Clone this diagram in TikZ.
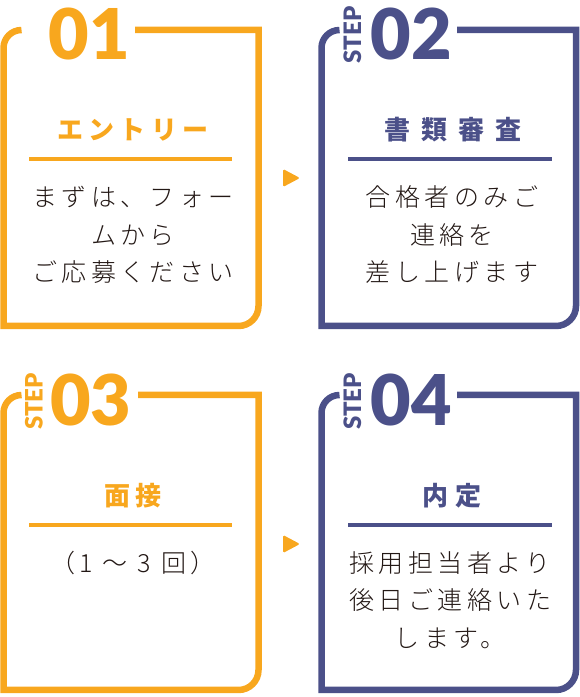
\documentclass[tikz,border=0pt]{standalone}
\usepackage{fontspec}
\newfontfamily\jpfont{Noto Sans CJK JP}
\newfontfamily\jplight{Noto Sans CJK JP Light}
\newfontfamily\numfont{Lato Black}
\definecolor{sorange}{HTML}{F8A71E}
\definecolor{snavy}{HTML}{4B5089}
\definecolor{stext}{HTML}{231815}
\begin{document}
\begin{tikzpicture}[x=1pt,y=1pt,
  frame/.style={line width=6.5pt},
  divider/.style={line width=4pt},
  numlabel/.style={inner sep=0pt,font=\numfont\fontsize{70}{70}\selectfont},
  steplabel/.style={inner sep=0pt,rotate=90,font=\numfont\fontsize{24}{24}\selectfont},
  titlelabel/.style={inner sep=0pt,font=\jpfont\bfseries\fontsize{26}{26}\selectfont},
  bodytext/.style={inner sep=0pt,align=center,text=stext,font=\jplight\fontsize{25}{37.5}\selectfont\addfontfeature{LetterSpace=18}},
  tri/.style={fill=sorange,rounded corners=1.5pt}]
\useasboundingbox (0,0) rectangle (580,697);
% frames
\draw[frame,sorange] (135,667) -- (258.5,667) -- (258.5,391) arc[start angle=0,end angle=-90,radius=20] -- (3.5,371) -- (3.5,649) arc[start angle=180,end angle=90,radius=18] -- (21.5,667);
\draw[frame,snavy] (457,667) -- (576,667) -- (576,391) arc[start angle=0,end angle=-90,radius=20] -- (321.5,371) -- (321.5,649) arc[start angle=180,end angle=90,radius=18] -- (339.5,667);
\draw[frame,sorange] (138,302) -- (258.5,302) -- (258.5,27) arc[start angle=0,end angle=-90,radius=20] -- (3.5,7) -- (3.5,284) arc[start angle=180,end angle=90,radius=18] -- (21.5,302);
\draw[frame,snavy] (457,302) -- (576,302) -- (576,27) arc[start angle=0,end angle=-90,radius=20] -- (321.5,7) -- (321.5,284) arc[start angle=180,end angle=90,radius=18] -- (339.5,302);
% numbers
\node[numlabel,text=sorange] (n1) at (89.5,663) {01};
\node[numlabel,text=snavy] (n2) at (411,663) {02};
\node[steplabel,text=snavy] (s2) at (352.5,662) {STEP};
\node[numlabel,text=sorange] (n3) at (91,297) {03};
\node[steplabel,text=sorange] (s3) at (34,295.5) {STEP};
\node[numlabel,text=snavy] (n4) at (411.5,297) {04};
\node[steplabel,text=snavy] (s4) at (352.5,295.5) {STEP};
% titles
\node[titlelabel,text=sorange] (t1) at (133,567) {\addfontfeature{LetterSpace=20}エントリー};
\node[titlelabel,text=snavy] (t2) at (453,567) {\addfontfeature{LetterSpace=43}書類審査};
\node[titlelabel,text=sorange] (t3) at (133,201) {\addfontfeature{LetterSpace=22}面接};
\node[titlelabel,text=snavy] (t4) at (452,201) {\addfontfeature{LetterSpace=28}内定};
% dividers
\draw[divider,sorange] (29,538) -- (232,538);
\draw[divider,snavy] (348,538) -- (552,538);
\draw[divider,sorange] (29,172) -- (232,172);
\draw[divider,snavy] (348,172) -- (552,172);
% body
\node[bodytext] (b1) at (133,462) {まずは、フォー\\ムから\\ご応募ください};
\node[bodytext] (b2) at (452,462) {合格者のみご\\連絡を\\差し上げます};
\node[bodytext] (b3) at (133,134) {（1 〜 3 回）};
\node[bodytext] (b4) at (450,97) {採用担当者より\\後日ご連絡いた\\します。};
% arrows
\fill[tri] (283,528) -- (300,519) -- (283,510) -- cycle;
\fill[tri] (283,162) -- (300,153) -- (283,144) -- cycle;
\end{tikzpicture}
\end{document}
